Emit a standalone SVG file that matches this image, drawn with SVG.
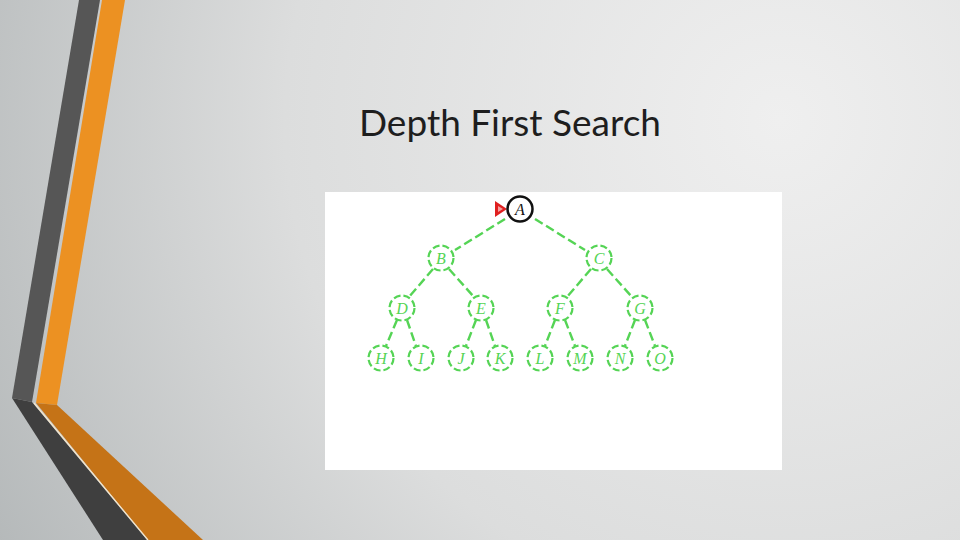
<svg xmlns="http://www.w3.org/2000/svg" width="960" height="540" viewBox="0 0 960 540">
<defs>
<radialGradient id="bg" cx="780" cy="120" r="900" gradientUnits="userSpaceOnUse">
<stop offset="0" stop-color="#efefef"/>
<stop offset="0.55" stop-color="#dcdddd"/>
<stop offset="1" stop-color="#b4b8b9"/>
</radialGradient>
<style>
.nd{fill:none;stroke:#55d455;stroke-width:2.2;stroke-dasharray:7 3}
.lb{font-family:"Liberation Serif",serif;font-style:italic;font-size:16px;fill:#55d455;text-anchor:middle}
.ed{stroke:#55d455;stroke-width:2.4;fill:none;stroke-dasharray:9 4}
</style>
</defs>
<rect width="960" height="540" fill="url(#bg)"/>
<!-- left decoration -->
<polygon points="79,0 100,0 32,402 12,398" fill="#565656"/>
<polygon points="102,0 125,0 57,405 36,403" fill="#ec9122"/>
<polygon points="12,398 32,402 147,540 103,540" fill="#3f3f3f"/>
<polygon points="36,403 57,405 203,540 148,540" fill="#c57317"/>
<line x1="34" y1="403" x2="148" y2="540" stroke="#f4e6cc" stroke-width="1.2"/>
<text x="510" y="136" font-family="Lato, 'Open Sans', sans-serif" font-size="37" fill="#1e1e1e" text-anchor="middle">Depth First Search</text>
<rect x="325" y="192" width="457" height="278" fill="#ffffff"/>
<g id="connectors">
<line class="ed" x1="505" y1="219" x2="455" y2="250"/>
<line class="ed" x1="535" y1="219" x2="585" y2="250"/>
<line class="ed" x1="433" y1="269" x2="409" y2="297"/>
<line class="ed" x1="449" y1="269" x2="474" y2="297"/>
<line class="ed" x1="591" y1="269" x2="567" y2="297"/>
<line class="ed" x1="607" y1="269" x2="632" y2="297"/>
<line class="ed" x1="397" y1="320" x2="386" y2="346"/>
<line class="ed" x1="407" y1="320" x2="416" y2="346"/>
<line class="ed" x1="476" y1="320" x2="466" y2="346"/>
<line class="ed" x1="486" y1="320" x2="495" y2="346"/>
<line class="ed" x1="555" y1="320" x2="545" y2="346"/>
<line class="ed" x1="565" y1="320" x2="575" y2="346"/>
<line class="ed" x1="635" y1="320" x2="625" y2="346"/>
<line class="ed" x1="645" y1="320" x2="655" y2="346"/>
</g>
<g id="start-marker"><polygon points="495,201 507,209 495,217" fill="#e02020"/><polygon points="498,206 503,209 498,212" fill="#f3a0a0"/></g>
<g id="node-A"><circle cx="520" cy="209" r="12.5" fill="#fff" stroke="#111" stroke-width="2.5"/><text class="lb" x="520" y="215" style="fill:#111">A</text></g>
<g id="node-B"><circle class="nd" cx="441" cy="258" r="12.5"/><text class="lb" x="441" y="264">B</text></g>
<g id="node-C"><circle class="nd" cx="599" cy="258" r="12.5"/><text class="lb" x="599" y="264">C</text></g>
<g id="node-D"><circle class="nd" cx="402" cy="308" r="12.5"/><text class="lb" x="402" y="314">D</text></g>
<g id="node-E"><circle class="nd" cx="481" cy="308" r="12.5"/><text class="lb" x="481" y="314">E</text></g>
<g id="node-F"><circle class="nd" cx="560" cy="308" r="12.5"/><text class="lb" x="560" y="314">F</text></g>
<g id="node-G"><circle class="nd" cx="640" cy="308" r="12.5"/><text class="lb" x="640" y="314">G</text></g>
<g id="node-H"><circle class="nd" cx="381" cy="358" r="12.5"/><text class="lb" x="381" y="364">H</text></g>
<g id="node-I"><circle class="nd" cx="421" cy="358" r="12.5"/><text class="lb" x="421" y="364">I</text></g>
<g id="node-J"><circle class="nd" cx="461" cy="358" r="12.5"/><text class="lb" x="461" y="364">J</text></g>
<g id="node-K"><circle class="nd" cx="500" cy="358" r="12.5"/><text class="lb" x="500" y="364">K</text></g>
<g id="node-L"><circle class="nd" cx="540" cy="358" r="12.5"/><text class="lb" x="540" y="364">L</text></g>
<g id="node-M"><circle class="nd" cx="580" cy="358" r="12.5"/><text class="lb" x="580" y="364">M</text></g>
<g id="node-N"><circle class="nd" cx="620" cy="358" r="12.5"/><text class="lb" x="620" y="364">N</text></g>
<g id="node-O"><circle class="nd" cx="660" cy="358" r="12.5"/><text class="lb" x="660" y="364">O</text></g>
</svg>
